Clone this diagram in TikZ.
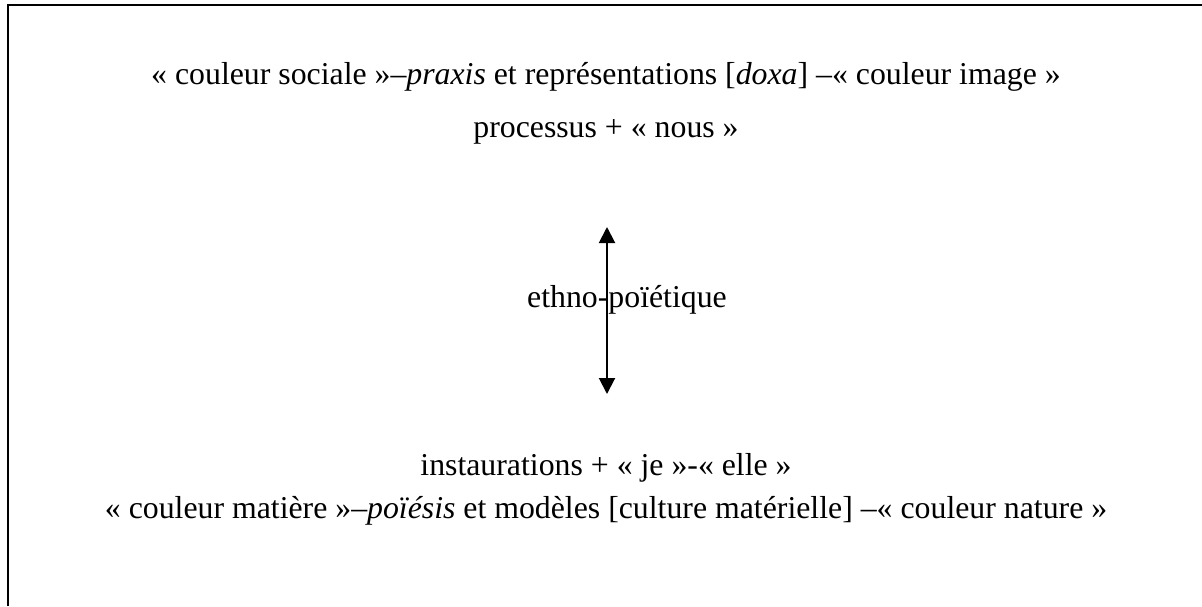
\documentclass[tikz,border=0pt]{standalone}
\usepackage{fontspec}
\setmainfont{Liberation Serif}
\usetikzlibrary{arrows.meta}
\tikzset{txt/.style={anchor=base,inner sep=0pt,font=\fontsize{31.8}{38}\selectfont}}
\begin{document}
\begin{tikzpicture}[x=1pt,y=-1pt]
  \useasboundingbox (0,0) rectangle (1202,606);
  \draw[line width=2pt] (8,606)--(8,4.5)--(1202,4.5);
  \node[txt] (soc) at (606,84) {« couleur sociale »–\textit{praxis} et représentations [\textit{doxa}] –« couleur image »};
  \node[txt] (nous) at (606,137) {processus + « nous »};
  \coordinate (up) at (607,227); \coordinate (dn) at (607,394);
  \draw[line width=2pt,{Triangle[width=16pt,length=16pt]}-{Triangle[width=16pt,length=16pt]}] (dn)--(up);
  \node[txt] (ethno) at (627,307) {ethno-poïétique};
  \node[txt] (je) at (606,475) {instaurations + « je »-« elle »};
  \node[txt] (mat) at (606,518) {« couleur matière »–\textit{poïésis} et modèles [culture matérielle] –« couleur nature »};
\end{tikzpicture}
\end{document}
